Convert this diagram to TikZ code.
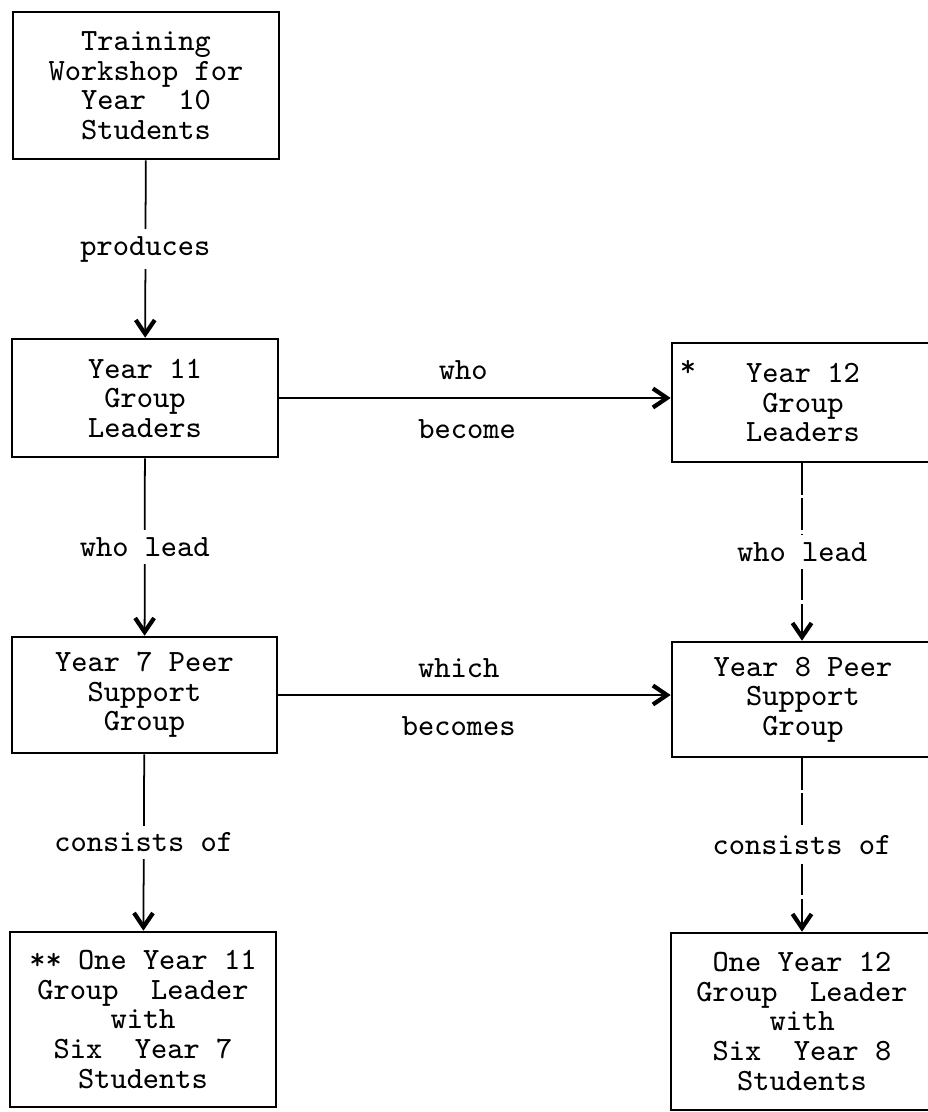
\documentclass[tikz,border=0pt]{standalone}
\usepackage{tikz}
\usetikzlibrary{arrows.meta}

\begin{document}
\begin{tikzpicture}[x=0.01cm, y=-0.01cm,
		box/.style={draw, line width=0.7pt, align=center, inner sep=0pt, font=\ttfamily\fontsize{8.8}{8.4}\selectfont},
		link/.style={line width=0.5pt, -{Straight Barb[length=1.4mm, width=1.9mm, line width=1.2pt]}},
		faint/.style={line width=0.4pt, dash pattern=on 9pt off 1pt},
		lbl/.style={font=\ttfamily\fontsize{8.8}{8.4}\selectfont, fill=white, inner sep=2pt},
		side/.style={font=\ttfamily\fontsize{8.8}{8.4}\selectfont, inner sep=0pt}]
		\useasboundingbox (0,0) rectangle (927,1112);
		% left column
		\node[box, minimum width=2.66cm, minimum height=1.47cm] (train) at (146,85.5) {Training\\Workshop for\\Year\ \ 10\\Students};
		\node[box, minimum width=2.66cm, minimum height=1.18cm] (yel) at (145,398) {Year 11\\Group\\Leaders};
		\node[box, minimum width=2.65cm, minimum height=1.16cm] (ysev) at (144.5,695) {Year 7 Peer\\Support\\Group};
		\node[box, minimum width=2.66cm, minimum height=1.75cm] (gsev) at (143,1019.5) {** One Year 11\\Group\ \ Leader\\with\\Six\ \ Year 7\\Students};
		% right column, cut off by the edge
		\node[box, minimum width=2.80cm, minimum height=1.19cm] (ytw) at (812,402.5) {\hspace*{-0.18cm}Year 12\\\hspace*{-0.18cm}Group\\\hspace*{-0.18cm}Leaders};
		\node[side] (ast) at (688,368) {*};
		\node[box, minimum width=2.80cm, minimum height=1.15cm] (yeig) at (812,699.5) {\hspace*{-0.18cm}Year 8 Peer\\\hspace*{-0.18cm}Support\\\hspace*{-0.18cm}Group};
		\node[box, minimum width=2.80cm, minimum height=1.77cm] (geig) at (811,1021.5) {\hspace*{-0.18cm}One Year 12\\\hspace*{-0.18cm}Group\ \ Leader\\\hspace*{-0.18cm}with\\\hspace*{-0.18cm}Six\ \ Year 8\\\hspace*{-0.18cm}Students};
		% connectors
		\draw[link] (train) -- node[lbl]{produces} (yel);
		\draw[link] (yel) -- node[lbl]{who lead} (ysev);
		\draw[link] (ysev) -- node[lbl]{consists of} (gsev);
		\draw[link, faint] (ytw.south -| 802,0) -- node[lbl]{who lead} (yeig.north -| 802,0);
		\draw[link, faint] (yeig.south -| 802,0) -- node[lbl]{consists of} (geig.north -| 802,0);
		\draw[link] (yel.east) -- node[side, pos=0.47, yshift=0.28cm]{who} node[side, pos=0.48, yshift=-0.31cm]{become} (yel.east -| ytw.west);
		\draw[link] (ysev.east) -- node[side, pos=0.46, yshift=0.27cm]{which} node[side, pos=0.46, yshift=-0.31cm]{becomes} (ysev.east -| yeig.west);
\end{tikzpicture}
\end{document}
